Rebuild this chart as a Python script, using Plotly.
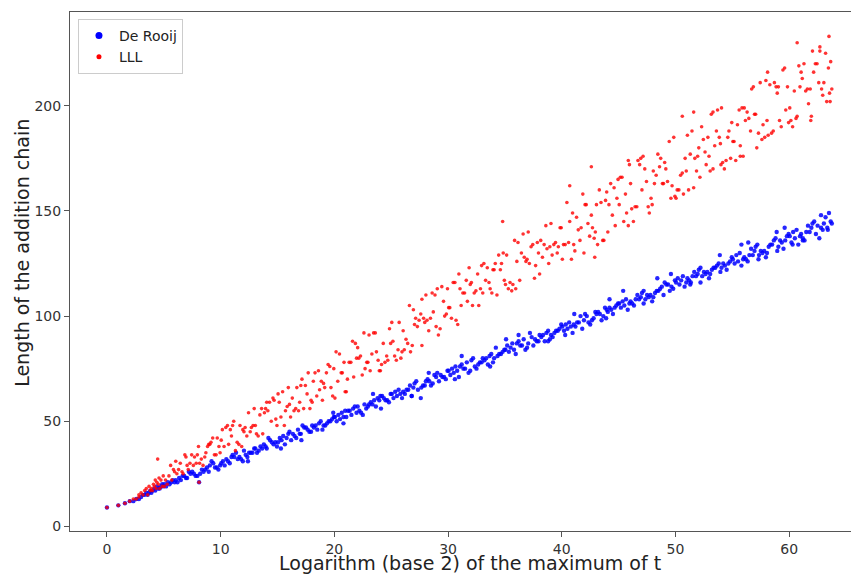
import plotly.graph_objects as go

# ---- data: De Rooij (x = log2 of max t, y = chain length) ----
de_rooij_x = [
    0.0, 1.0, 1.58, 2.0, 2.32, 2.58, 2.81,
    3.0, 3.17, 3.32, 3.46, 3.58, 3.7, 3.81, 3.91,
    4.0, 4.17, 4.25, 4.39, 4.52, 4.64, 4.75, 4.86, 4.95,
    5.05, 5.2, 5.35, 5.5, 5.65, 5.8, 5.95,
    6.5, 6.2, 6.95, 6.05, 6.65, 6.35, 6.8,
    7.8, 7.35, 7.05, 7.65, 7.2, 7.95, 7.5,
    8.1, 8.95, 8.65, 8.2, 8.8, 8.35, 8.5,
    9.65, 9.05, 9.8, 9.35, 9.95, 9.5, 9.2,
    10.05, 10.2, 10.35, 10.5, 10.65, 10.8, 10.95,
    11.5, 11.2, 11.95, 11.05, 11.65, 11.35, 11.8,
    12.8, 12.35, 12.05, 12.65, 12.2, 12.95, 12.5,
    13.35, 13.95, 13.65, 13.2, 13.8, 13.05, 13.5,
    14.65, 14.05, 14.8, 14.35, 14.95, 14.5, 14.2,
    15.05, 15.2, 15.35, 15.5, 15.65, 15.8, 15.95,
    16.5, 16.2, 16.95, 16.05, 16.65, 16.35, 16.8,
    17.8, 17.35, 17.05, 17.65, 17.2, 17.95, 17.5,
    18.35, 18.95, 18.65, 18.2, 18.8, 18.05, 18.5,
    19.65, 19.05, 19.8, 19.35, 19.95, 19.5, 19.2,
    20.05, 20.2, 20.35, 20.5, 20.65, 20.8, 20.95,
    21.5, 21.2, 21.95, 21.05, 21.65, 21.35, 21.8,
    22.8, 22.35, 22.05, 22.65, 22.2, 22.95, 22.5,
    23.35, 23.95, 23.65, 23.2, 23.8, 23.05, 23.5,
    24.65, 24.05, 24.8, 24.35, 24.95, 24.5, 24.2,
    25.05, 25.2, 25.35, 25.5, 25.65, 25.8, 25.95,
    26.5, 26.2, 26.95, 26.05, 26.65, 26.35, 26.8,
    27.8, 27.35, 27.05, 27.65, 27.2, 27.95, 27.6,
    28.35, 28.95, 28.65, 28.2, 28.8, 28.05, 28.5,
    29.65, 29.05, 29.8, 29.35, 29.95, 29.5, 29.2,
    30.05, 30.2, 30.35, 30.5, 30.65, 30.8, 30.95,
    31.5, 31.2, 31.95, 31.05, 31.65, 31.35, 31.8,
    32.8, 32.35, 32.05, 32.65, 32.2, 32.95, 32.5,
    33.35, 33.95, 33.65, 33.2, 33.8, 33.05, 33.5,
    34.65, 34.05, 34.8, 34.35, 34.95, 34.5, 34.2,
    35.05, 35.2, 35.35, 35.5, 35.65, 35.8, 35.95,
    36.5, 36.2, 36.95, 36.05, 36.65, 36.35, 36.8,
    37.8, 37.35, 37.05, 37.65, 37.2, 37.95, 37.5,
    38.35, 38.95, 38.65, 38.2, 38.8, 38.05, 38.5,
    39.65, 39.05, 39.8, 39.35, 39.95, 39.5, 39.2,
    40.05, 40.2, 40.35, 40.5, 40.65, 40.8, 40.95,
    41.5, 41.2, 41.95, 41.05, 41.65, 41.35, 41.8,
    42.8, 42.35, 42.05, 42.65, 42.2, 42.95, 42.5,
    43.35, 43.95, 43.65, 43.2, 43.8, 43.05, 43.5,
    44.65, 44.05, 44.8, 44.35, 44.95, 44.5, 44.2,
    45.05, 45.2, 45.35, 45.5, 45.65, 45.8, 45.95,
    46.5, 46.2, 46.95, 46.05, 46.65, 46.35, 46.8,
    47.8, 47.35, 47.05, 47.65, 47.2, 47.95, 47.5,
    48.35, 48.95, 48.65, 48.2, 48.8, 48.05, 48.5,
    49.65, 49.05, 49.8, 49.35, 49.95, 49.5, 49.2,
    50.05, 50.2, 50.35, 50.5, 50.65, 50.8, 50.95,
    51.5, 51.2, 51.95, 51.05, 51.65, 51.35, 51.8,
    52.8, 52.35, 52.05, 52.65, 52.2, 52.95, 52.5,
    53.35, 53.95, 53.65, 53.2, 53.8, 53.05, 53.5,
    54.65, 54.05, 54.8, 54.35, 54.95, 54.5, 54.2,
    55.05, 55.2, 55.35, 55.5, 55.65, 55.8, 55.95,
    56.5, 56.2, 56.95, 56.05, 56.65, 56.35, 56.8,
    57.8, 57.35, 57.05, 57.65, 57.2, 57.95, 57.5,
    58.35, 58.95, 58.65, 58.2, 58.8, 58.05, 58.5,
    59.65, 59.05, 59.8, 59.35, 59.95, 59.5, 59.2,
    60.05, 60.2, 60.35, 60.5, 60.65, 60.8, 60.95,
    61.5, 61.2, 61.95, 61.05, 61.65, 61.35, 61.8,
    62.8, 62.35, 62.05, 62.65, 62.2, 62.95, 62.5,
    63.05, 63.2, 63.35, 63.5, 63.65, 63.75,
    12.4, 15.3, 19.9, 23.4, 26.8, 31.2, 33.7, 36.2, 38.8, 41.1, 43.9, 45.4,
    47.2, 49.6, 52.2, 55.8, 57.3, 59.6, 61.2, 62.8, 30.6, 35.1, 40.3, 48.4,
    53.9, 58.9, 24.1, 20.8, 17.1, 28.3, 44.2, 51.3, 56.4, 60.3, 63.4,
]
de_rooij_y = [
    9, 10, 11, 12, 12, 13, 13,
    14, 15, 15, 16, 15, 16, 17, 16,
    17, 18, 17, 19, 18, 18, 19, 20, 19,
    20, 19, 21, 20, 21, 22, 21,
    22, 21, 23, 22, 24, 23, 24,
    24, 25, 23, 25, 26, 24, 26,
    21, 26, 27, 25, 28, 27, 26,
    28, 29, 27, 30, 29, 28, 31,
    30, 31, 29, 32, 31, 30, 33,
    32, 33, 31, 34, 33, 35, 32,
    35, 33, 36, 35, 34, 37, 35,
    36, 38, 37, 35, 39, 37, 38,
    39, 37, 40, 41, 38, 40, 42,
    40, 42, 41, 43, 39, 42, 44,
    43, 41, 44, 45, 42, 44, 46,
    45, 47, 44, 46, 48, 45, 47,
    48, 46, 49, 47, 50, 48, 46,
    50, 48, 51, 49, 52, 50, 48,
    52, 50, 53, 51, 54, 52, 55,
    53, 55, 54, 52, 56, 55, 57,
    56, 54, 57, 58, 55, 57, 53,
    58, 60, 57, 59, 61, 58, 60,
    60, 62, 59, 61, 63, 60, 62,
    63, 61, 64, 62, 65, 63, 61,
    65, 63, 66, 64, 67, 65, 62,
    67, 65, 68, 66, 69, 67, 61,
    69, 71, 68, 70, 72, 69, 67,
    71, 73, 70, 72, 74, 71, 69,
    74, 72, 75, 73, 76, 74, 71,
    75, 77, 74, 76, 78, 75, 73,
    78, 76, 79, 77, 80, 78, 75,
    80, 78, 81, 79, 82, 80, 77,
    82, 80, 83, 81, 84, 82, 85,
    84, 86, 83, 85, 87, 84, 82,
    86, 88, 85, 87, 89, 86, 84,
    88, 90, 87, 89, 92, 88, 86,
    91, 89, 92, 90, 93, 91, 88,
    93, 91, 94, 92, 96, 93, 90,
    95, 93, 96, 94, 97, 95, 92,
    97, 95, 98, 96, 100, 97, 94,
    99, 97, 101, 98, 100, 102, 96,
    101, 103, 100, 102, 104, 101, 98,
    104, 102, 105, 103, 106, 101, 104,
    106, 104, 107, 105, 108, 103, 106,
    108, 106, 109, 107, 110, 105, 108,
    110, 108, 111, 109, 112, 107, 110,
    112, 110, 113, 111, 114, 109, 112,
    114, 116, 113, 115, 117, 112, 115,
    116, 118, 115, 117, 119, 114, 116,
    119, 117, 120, 118, 121, 116, 119,
    121, 119, 122, 120, 123, 118, 121,
    123, 121, 124, 122, 125, 120, 123,
    125, 123, 126, 124, 128, 122, 125,
    127, 125, 129, 126, 130, 124, 127,
    129, 127, 131, 128, 132, 126, 129,
    131, 129, 133, 130, 134, 128, 131,
    134, 131, 136, 133, 137, 130, 134,
    136, 133, 138, 135, 139, 132, 136,
    138, 135, 140, 137, 141, 134, 138,
    140, 137, 142, 139, 143, 136, 140,
    142, 139, 144, 137, 145, 141, 143,
    144, 147, 142, 149, 145, 144,
    31, 37, 54, 63, 62, 81, 76, 91, 88, 101, 99, 112,
    106, 120, 116, 134, 127, 142, 136, 148, 70, 89, 91, 118,
    129, 140, 56, 49, 41, 73, 108, 115, 135, 134, 141,
]

# ---- data: LLL ----
lll_x = [
    0.0, 1.0, 1.58, 2.0, 2.32, 2.58, 2.81, 2.81,
    3.0, 3.17, 3.32, 3.46, 3.58, 3.7, 3.81, 3.91,
    4.0, 4.09, 4.17, 4.25, 4.32, 4.39, 4.46, 4.52, 4.58, 4.64, 4.75, 4.86, 4.95,
    5.05, 5.15, 5.3, 5.45, 5.6, 5.7, 5.85, 5.95,
    6.6, 6.3, 6.95, 6.05, 6.45, 6.85, 6.15, 6.7,
    7.85, 7.45, 7.05, 7.7, 7.15, 7.95, 7.3, 7.6,
    8.3, 8.95, 8.6, 8.15, 8.85, 8.05, 8.7, 8.45,
    9.45, 9.7, 9.15, 9.85, 9.95, 9.3, 9.05, 9.6,
    10.05, 10.15, 10.3, 10.45, 10.6, 10.7, 10.85, 10.95,
    11.6, 11.3, 11.95, 11.05, 11.45, 11.85, 11.15, 11.7,
    12.85, 12.45, 12.05, 12.7, 12.15, 12.95, 12.3, 12.6,
    13.3, 13.95, 13.6, 13.15, 13.85, 13.05, 13.7, 13.45,
    14.45, 14.7, 14.15, 14.85, 14.95, 14.3, 14.05, 14.6,
    15.05, 15.15, 15.3, 15.45, 15.6, 15.7, 15.85, 15.95,
    16.6, 16.3, 16.95, 16.05, 16.45, 16.85, 16.15, 16.7,
    17.85, 17.45, 17.05, 17.7, 17.15, 17.95, 17.3, 17.6,
    18.3, 18.95, 18.6, 18.15, 18.85, 18.05, 18.7, 18.45,
    19.45, 19.7, 19.15, 19.85, 19.95, 19.3, 19.05, 19.6,
    20.05, 20.15, 20.3, 20.45, 20.6, 20.7, 20.85, 20.95,
    21.6, 21.3, 21.95, 21.05, 21.45, 21.85, 21.15, 21.7,
    22.85, 22.45, 22.05, 22.7, 22.15, 22.95, 22.3, 22.6,
    23.3, 23.95, 23.6, 23.15, 23.85, 23.05, 23.7, 23.45,
    24.45, 24.7, 24.15, 24.85, 24.95, 24.3, 24.05, 24.6,
    25.05, 25.15, 25.3, 25.45, 25.6, 25.7, 25.85, 25.95,
    26.6, 26.3, 26.95, 26.05, 26.45, 26.85, 26.15, 26.7,
    27.85, 27.45, 27.05, 27.7, 27.15, 27.95, 27.3, 27.6,
    28.3, 28.95, 28.6, 28.15, 28.85, 28.05, 28.7, 28.45,
    29.45, 29.7, 29.15, 29.85, 29.95, 29.3, 29.05, 29.6,
    30.05, 30.15, 30.3, 30.45, 30.6, 30.7, 30.85, 30.95,
    31.6, 31.3, 31.95, 31.05, 31.45, 31.85, 31.15, 31.7,
    32.85, 32.45, 32.05, 32.7, 32.15, 32.95, 32.3, 32.6,
    33.3, 33.95, 33.6, 33.15, 33.85, 33.05, 33.7, 33.45,
    34.45, 34.7, 34.15, 34.85, 34.95, 34.3, 34.05, 34.6,
    35.05, 35.15, 35.3, 35.45, 35.6, 35.7, 35.85, 35.95,
    36.6, 36.3, 36.95, 36.05, 36.45, 36.85, 36.15, 36.7,
    37.85, 37.45, 37.05, 37.7, 37.15, 37.95, 37.3, 37.6,
    38.3, 38.95, 38.6, 38.15, 38.85, 38.05, 38.7, 38.45,
    39.45, 39.7, 39.15, 39.85, 39.95, 39.3, 39.05, 39.6,
    40.05, 40.15, 40.3, 40.45, 40.6, 40.7, 40.85, 40.95,
    41.6, 41.3, 41.95, 41.05, 41.45, 41.85, 41.15, 41.7,
    42.85, 42.45, 42.05, 42.7, 42.15, 42.95, 42.3, 42.6,
    43.3, 43.95, 43.6, 43.15, 43.85, 43.05, 43.7, 43.45,
    44.45, 44.7, 44.15, 44.85, 44.95, 44.3, 44.05, 44.6,
    45.05, 45.15, 45.3, 45.45, 45.6, 45.7, 45.85, 45.95,
    46.6, 46.3, 46.95, 46.05, 46.45, 46.85, 46.15, 46.7,
    47.85, 47.45, 47.05, 47.7, 47.15, 47.95, 47.3, 47.6,
    48.3, 48.95, 48.6, 48.15, 48.85, 48.05, 48.7, 48.45,
    49.45, 49.7, 49.15, 49.85, 49.95, 49.3, 49.05, 49.6,
    50.05, 50.15, 50.3, 50.45, 50.6, 50.7, 50.85, 50.95,
    51.6, 51.3, 51.95, 51.05, 51.45, 51.85, 51.15, 51.7,
    52.85, 52.45, 52.05, 52.7, 52.15, 52.95, 52.3, 52.6,
    53.3, 53.95, 53.6, 53.15, 53.85, 53.05, 53.7, 53.45,
    54.45, 54.7, 54.15, 54.85, 54.95, 54.3, 54.05, 54.6,
    55.05, 55.15, 55.3, 55.45, 55.6, 55.7, 55.85, 55.95,
    56.6, 56.3, 56.95, 56.05, 56.45, 56.85, 56.15, 56.7,
    57.85, 57.45, 57.05, 57.7, 57.15, 57.95, 57.3, 57.6,
    58.3, 58.95, 58.6, 58.15, 58.85, 58.05, 58.7, 58.45,
    59.45, 59.7, 59.15, 59.85, 59.95, 59.3, 59.05, 59.6,
    60.05, 60.15, 60.3, 60.45, 60.6, 60.7, 60.85, 60.95,
    61.6, 61.3, 61.95, 61.05, 61.45, 61.85, 61.15, 61.7,
    62.85, 62.45, 62.05, 62.7, 62.15, 62.95, 62.3, 62.6,
    63.05, 63.2, 63.3, 63.45, 63.5, 63.55, 63.65, 63.75,
    8.1, 27.7, 34.8, 40.7, 42.6, 42.9, 45.85, 50.6, 51.6, 53.3,
    54.0, 55.7, 58.1, 60.7, 61.9, 62.7, 63.6,
]
lll_y = [
    9, 10, 11, 12, 13, 13, 14, 15,
    16, 15, 17, 18, 15, 19, 17, 18,
    17, 20, 19, 22, 18, 21, 32, 20, 23, 18, 22, 19, 24,
    19, 22, 20, 24, 29, 22, 27, 26,
    26, 27, 33, 31, 30, 34, 25, 25,
    30, 34, 29, 33, 27, 34, 30, 29,
    32, 39, 33, 30, 38, 38, 35, 29,
    34, 42, 40, 38, 35, 42, 39, 34,
    41, 46, 38, 47, 48, 39, 46, 43,
    39, 36, 46, 48, 40, 38, 50, 48,
    48, 54, 45, 47, 47, 56, 43, 45,
    43, 56, 56, 44, 54, 48, 44, 53,
    50, 60, 55, 51, 48, 59, 59, 61,
    63, 59, 52, 64, 48, 55, 57, 66,
    56, 61, 59, 58, 55, 55, 52, 66,
    56, 67, 67, 73, 70, 60, 56, 63,
    73, 60, 74, 69, 69, 59, 65, 62,
    77, 66, 66, 62, 75, 73, 68, 76,
    61, 83, 69, 82, 73, 73, 78, 64,
    88, 78, 80, 64, 78, 87, 70, 71,
    78, 72, 85, 75, 80, 78, 81, 92,
    82, 74, 92, 74, 79, 91, 83, 92,
    78, 79, 77, 94, 87, 87, 74, 81,
    97, 88, 81, 79, 84, 97, 80, 83,
    105, 89, 103, 93, 87, 86, 84, 83,
    99, 98, 96, 108, 99, 97, 95, 101,
    93, 95, 111, 98, 110, 110, 102, 99,
    114, 100, 91, 101, 113, 94, 113, 107,
    104, 104, 99, 116, 116, 98, 96, 120,
    117, 111, 115, 113, 111, 123, 105, 107,
    113, 112, 116, 105, 105, 124, 111, 120,
    117, 122, 116, 125, 111, 111, 113, 123,
    129, 125, 125, 130, 117, 110, 122, 122,
    115, 129, 113, 116, 112, 115, 136, 113,
    139, 117, 127, 126, 130, 126, 135, 128,
    135, 134, 140, 124, 125, 130, 133, 118,
    128, 133, 143, 136, 125, 120, 132, 134,
    135, 133, 129, 142, 142, 134, 144, 130,
    127, 134, 134, 154, 135, 145, 127, 149,
    136, 147, 130, 134, 141, 158, 131, 142,
    137, 138, 153, 142, 153, 140, 144, 148,
    160, 159, 136, 134, 155, 153, 136, 154,
    148, 143, 153, 156, 165, 163, 140, 161,
    153, 166, 166, 145, 158, 149, 143, 172,
    152, 145, 175, 163, 152, 172, 151, 174,
    156, 164, 160, 149, 176, 153, 170, 152,
    167, 163, 171, 163, 163, 169, 175, 177,
    183, 162, 170, 185, 157, 164, 173, 156,
    156, 160, 160, 167, 168, 158, 175, 169,
    161, 177, 176, 186, 188, 169, 160, 175,
    185, 184, 180, 172, 166, 176, 190, 178,
    170, 182, 188, 196, 185, 169, 198, 181,
    174, 188, 173, 175, 192, 170, 199, 185,
    183, 183, 174, 191, 198, 181, 199, 176,
    188, 197, 196, 199, 194, 209, 193, 208,
    185, 211, 196, 191, 180, 212, 187, 184,
    210, 206, 188, 186, 209, 193, 211, 187,
    217, 198, 193, 209, 192, 190, 209, 218,
    199, 193, 190, 207, 194, 195, 219, 209,
    208, 220, 195, 216, 207, 208, 213, 201,
    208, 220, 226, 228, 216, 205, 220, 211,
    211, 225, 202, 218, 233, 206, 221, 208,
    21, 86, 145, 162, 171, 128, 174, 195, 197, 197,
    172, 176, 216, 230, 193, 226, 202,
]

series_names = ["De Rooij", "LLL"]
x_title = "Logarithm (base 2) of the maximum of t"
y_title = "Length of the addition chain"
x_ticks = [0, 10, 20, 30, 40, 50, 60]
y_ticks = [0, 50, 100, 150, 200]

FONT = "DejaVu Sans"
BLUE = "#0000ff"
RED = "#ff0000"

fig = go.Figure()
fig.add_trace(go.Scatter(
    x=de_rooij_x, y=de_rooij_y, mode="markers", name=series_names[0],
    marker=dict(color=BLUE, size=4.4, opacity=0.85, line=dict(width=0)),
    showlegend=False,
))
fig.add_trace(go.Scatter(
    x=lll_x, y=lll_y, mode="markers", name=series_names[1],
    marker=dict(color=RED, size=3.6, opacity=0.8, line=dict(width=0)),
    showlegend=False,
))
# legend-only entries (larger glyphs, as in the reference legend)
fig.add_trace(go.Scatter(
    x=[None], y=[None], mode="markers", name=series_names[0],
    marker=dict(color=BLUE, size=7, line=dict(width=0)),
))
fig.add_trace(go.Scatter(
    x=[None], y=[None], mode="markers", name=series_names[1],
    marker=dict(color=RED, size=5, line=dict(width=0)),
))

axis_common = dict(
    showgrid=False, zeroline=False, showline=True, linecolor="#555555",
    linewidth=1, ticks="outside", ticklen=5, tickwidth=1, tickcolor="#555555",
    tickfont=dict(family=FONT, size=14, color="#333333"), automargin=False,
)

# The page body adds an 8px offset, so the figure is 8px smaller on each axis.
fig.update_layout(
    width=851, height=566,
    margin=dict(l=62, r=0, t=4, b=43),
    paper_bgcolor="white", plot_bgcolor="white",
    font=dict(family=FONT, color="#222222"),
    xaxis=dict(range=[-3.25, 66.14], tickvals=x_ticks, mirror=True, **axis_common),
    yaxis=dict(range=[-2.2, 244.6], tickvals=y_ticks, **axis_common),
    legend=dict(
        x=0.0101, y=0.9865, xanchor="left", yanchor="top",
        bgcolor="rgba(255,255,255,0.8)", bordercolor="#cccccc", borderwidth=1,
        font=dict(family=FONT, size=14, color="#222222"),
        itemsizing="trace", tracegroupgap=0,
    ),
    annotations=[
        dict(text=x_title, xref="paper", yref="paper", x=0.507, y=-0.0617,
             xanchor="center", yanchor="middle", showarrow=False,
             font=dict(family=FONT, size=19, color="#222222")),
        dict(text=y_title, xref="paper", yref="paper", x=-0.0608, y=0.536,
             xanchor="center", yanchor="middle", showarrow=False, textangle=-90,
             font=dict(family=FONT, size=19, color="#222222")),
    ],
)

fig.write_html("out.html")
